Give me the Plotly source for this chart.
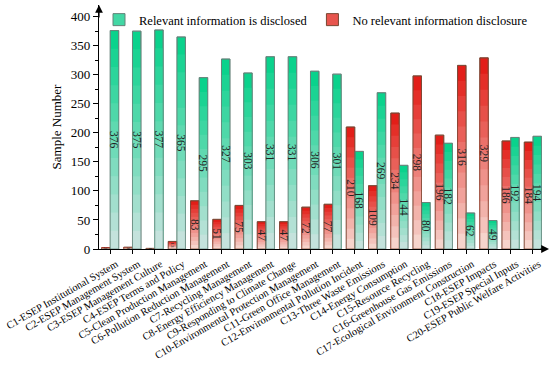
import plotly.graph_objects as go

categories = [
    "C1-ESEP Institutional System",
    "C2-ESEP Management System",
    "C3-ESEP Management Culture",
    "C4-ESEP Terms and Policy",
    "C5-Clean Production Management",
    "C6-Pollution Reduction Management",
    "C7-Recycling Management",
    "C8-Energy Efficiency Management",
    "C9-Responding to Climate Change",
    "C10-Environmental Protection Management",
    "C11-Green Office Management",
    "C12-Environmental Pollution Incident",
    "C13-Three Waste Emissions",
    "C14-Energy Consumption",
    "C15-Resource Recycling",
    "C16-Greenhouse Gas Emissions",
    "C17-Ecological Environment Construction",
    "C18-ESEP Impacts",
    "C19-ESEP Special Inputs",
    "C20-ESEP Public Welfare Activities",
]
disclosed = [376, 375, 377, 365, 295, 327, 303, 331, 331, 306, 301, 168, 269, 144, 80, 182, 62, 49, 192, 194]
not_disclosed = [2, 3, 1, 13, 83, 51, 75, 47, 47, 72, 77, 210, 109, 234, 298, 196, 316, 329, 186, 184]

FONT = "Liberation Serif, Times New Roman, DejaVu Serif, serif"
N_LAYERS = 12


def lerp(c1, c2, t):
    return "rgb(%d,%d,%d)" % tuple(round(a + (b - a) * t) for a, b in zip(c1, c2))


series = [
    ("No relevant information disclosure", not_disclosed, (226, 30, 24), (246, 212, 204), -0.385, "rgb(120,70,50)"),
    ("Relevant information is disclosed", disclosed, (10, 210, 140), (196, 226, 220), 0.005, "rgb(100,130,120)"),
]

fig = go.Figure()
# gradient layers (style only: each layer is a fraction of the bar height)
for name, vals, top, bot, off, lc in series:
    for k in range(N_LAYERS):
        frac = 1 - k / N_LAYERS
        fig.add_trace(go.Bar(
            x=categories, y=[v * frac for v in vals],
            offset=off, width=0.38,
            marker=dict(color=lerp(top, bot, k / (N_LAYERS - 1)),
                        line=dict(color=lc, width=0.8 if k == 0 else 0)),
            name=name, legendgroup=name,
            showlegend=False, hoverinfo="skip",
        ))

# outline + value labels (full bars)
for name, vals, top, bot, off, lc in series:
    fig.add_trace(go.Bar(
        x=categories, y=vals, offset=off, width=0.38,
        marker=dict(color="rgba(0,0,0,0)", line=dict(color=lc, width=0.8)),
        text=[str(v) for v in vals],
        textposition="inside", insidetextanchor="middle",
        textangle=90, constraintext="none",
        textfont=dict(family=FONT, color="#222222",
                      size=[11.5 if v >= 20 else 5 for v in vals]),
        showlegend=False, name=name,
    ))

# legend entries
for name, vals, top, bot, off, lc in reversed(series):
    fig.add_trace(go.Bar(
        x=[categories[0]], y=[None], name=name,
        marker=dict(color=lerp(top, bot, 0.3), line=dict(color=lc, width=1)),
        showlegend=True,
    ))

fig.update_layout(
    width=550, height=380,
    barmode="overlay",
    margin=dict(l=99, r=6, t=5, b=131, autoexpand=False),
    paper_bgcolor="white", plot_bgcolor="white",
    font=dict(family=FONT, color="black"),
    legend=dict(orientation="h", x=0.0, y=1.0, xanchor="left", yanchor="top",
                font=dict(family=FONT, size=12.5, color="black"), bgcolor="rgba(0,0,0,0)",
                itemwidth=30, traceorder="normal"),
    xaxis=dict(
        type="category", range=[-0.5, 19.5], automargin=False,
        showline=True, linecolor="black", linewidth=1.2,
        ticks="outside", ticklen=4, tickcolor="black",
        tickangle=-30, tickfont=dict(family=FONT, size=10.5, color="black"),
        ticklabelshift=6,
        showgrid=False, zeroline=False,
    ),
    yaxis=dict(
        range=[0, 420], automargin=False,
        tickvals=[0, 50, 100, 150, 200, 250, 300, 350, 400],
        showline=True, linecolor="black", linewidth=1.2,
        ticks="outside", ticklen=5, tickcolor="black",
        minor=dict(ticks="outside", ticklen=3, dtick=25, tickcolor="black"),
        tickfont=dict(family=FONT, size=13, color="black"),
        title=dict(text="Sample Number", font=dict(family=FONT, size=13, color="black"), standoff=6),
        showgrid=False, zeroline=False,
    ),
    annotations=[
        dict(xref="paper", yref="paper", x=0, y=1, ax=0, ay=14, showarrow=True,
             arrowhead=2, arrowsize=1.3, arrowwidth=1.2, arrowcolor="black", text=""),
        dict(xref="paper", yref="paper", x=1.02, y=0, ax=-14, ay=0, showarrow=True,
             arrowhead=2, arrowsize=1.3, arrowwidth=1.2, arrowcolor="black", text=""),
    ],
)

fig.write_html("out.html", config={"displayModeBar": False},
               post_script="document.body.style.margin='0';document.body.style.overflow='hidden';")
